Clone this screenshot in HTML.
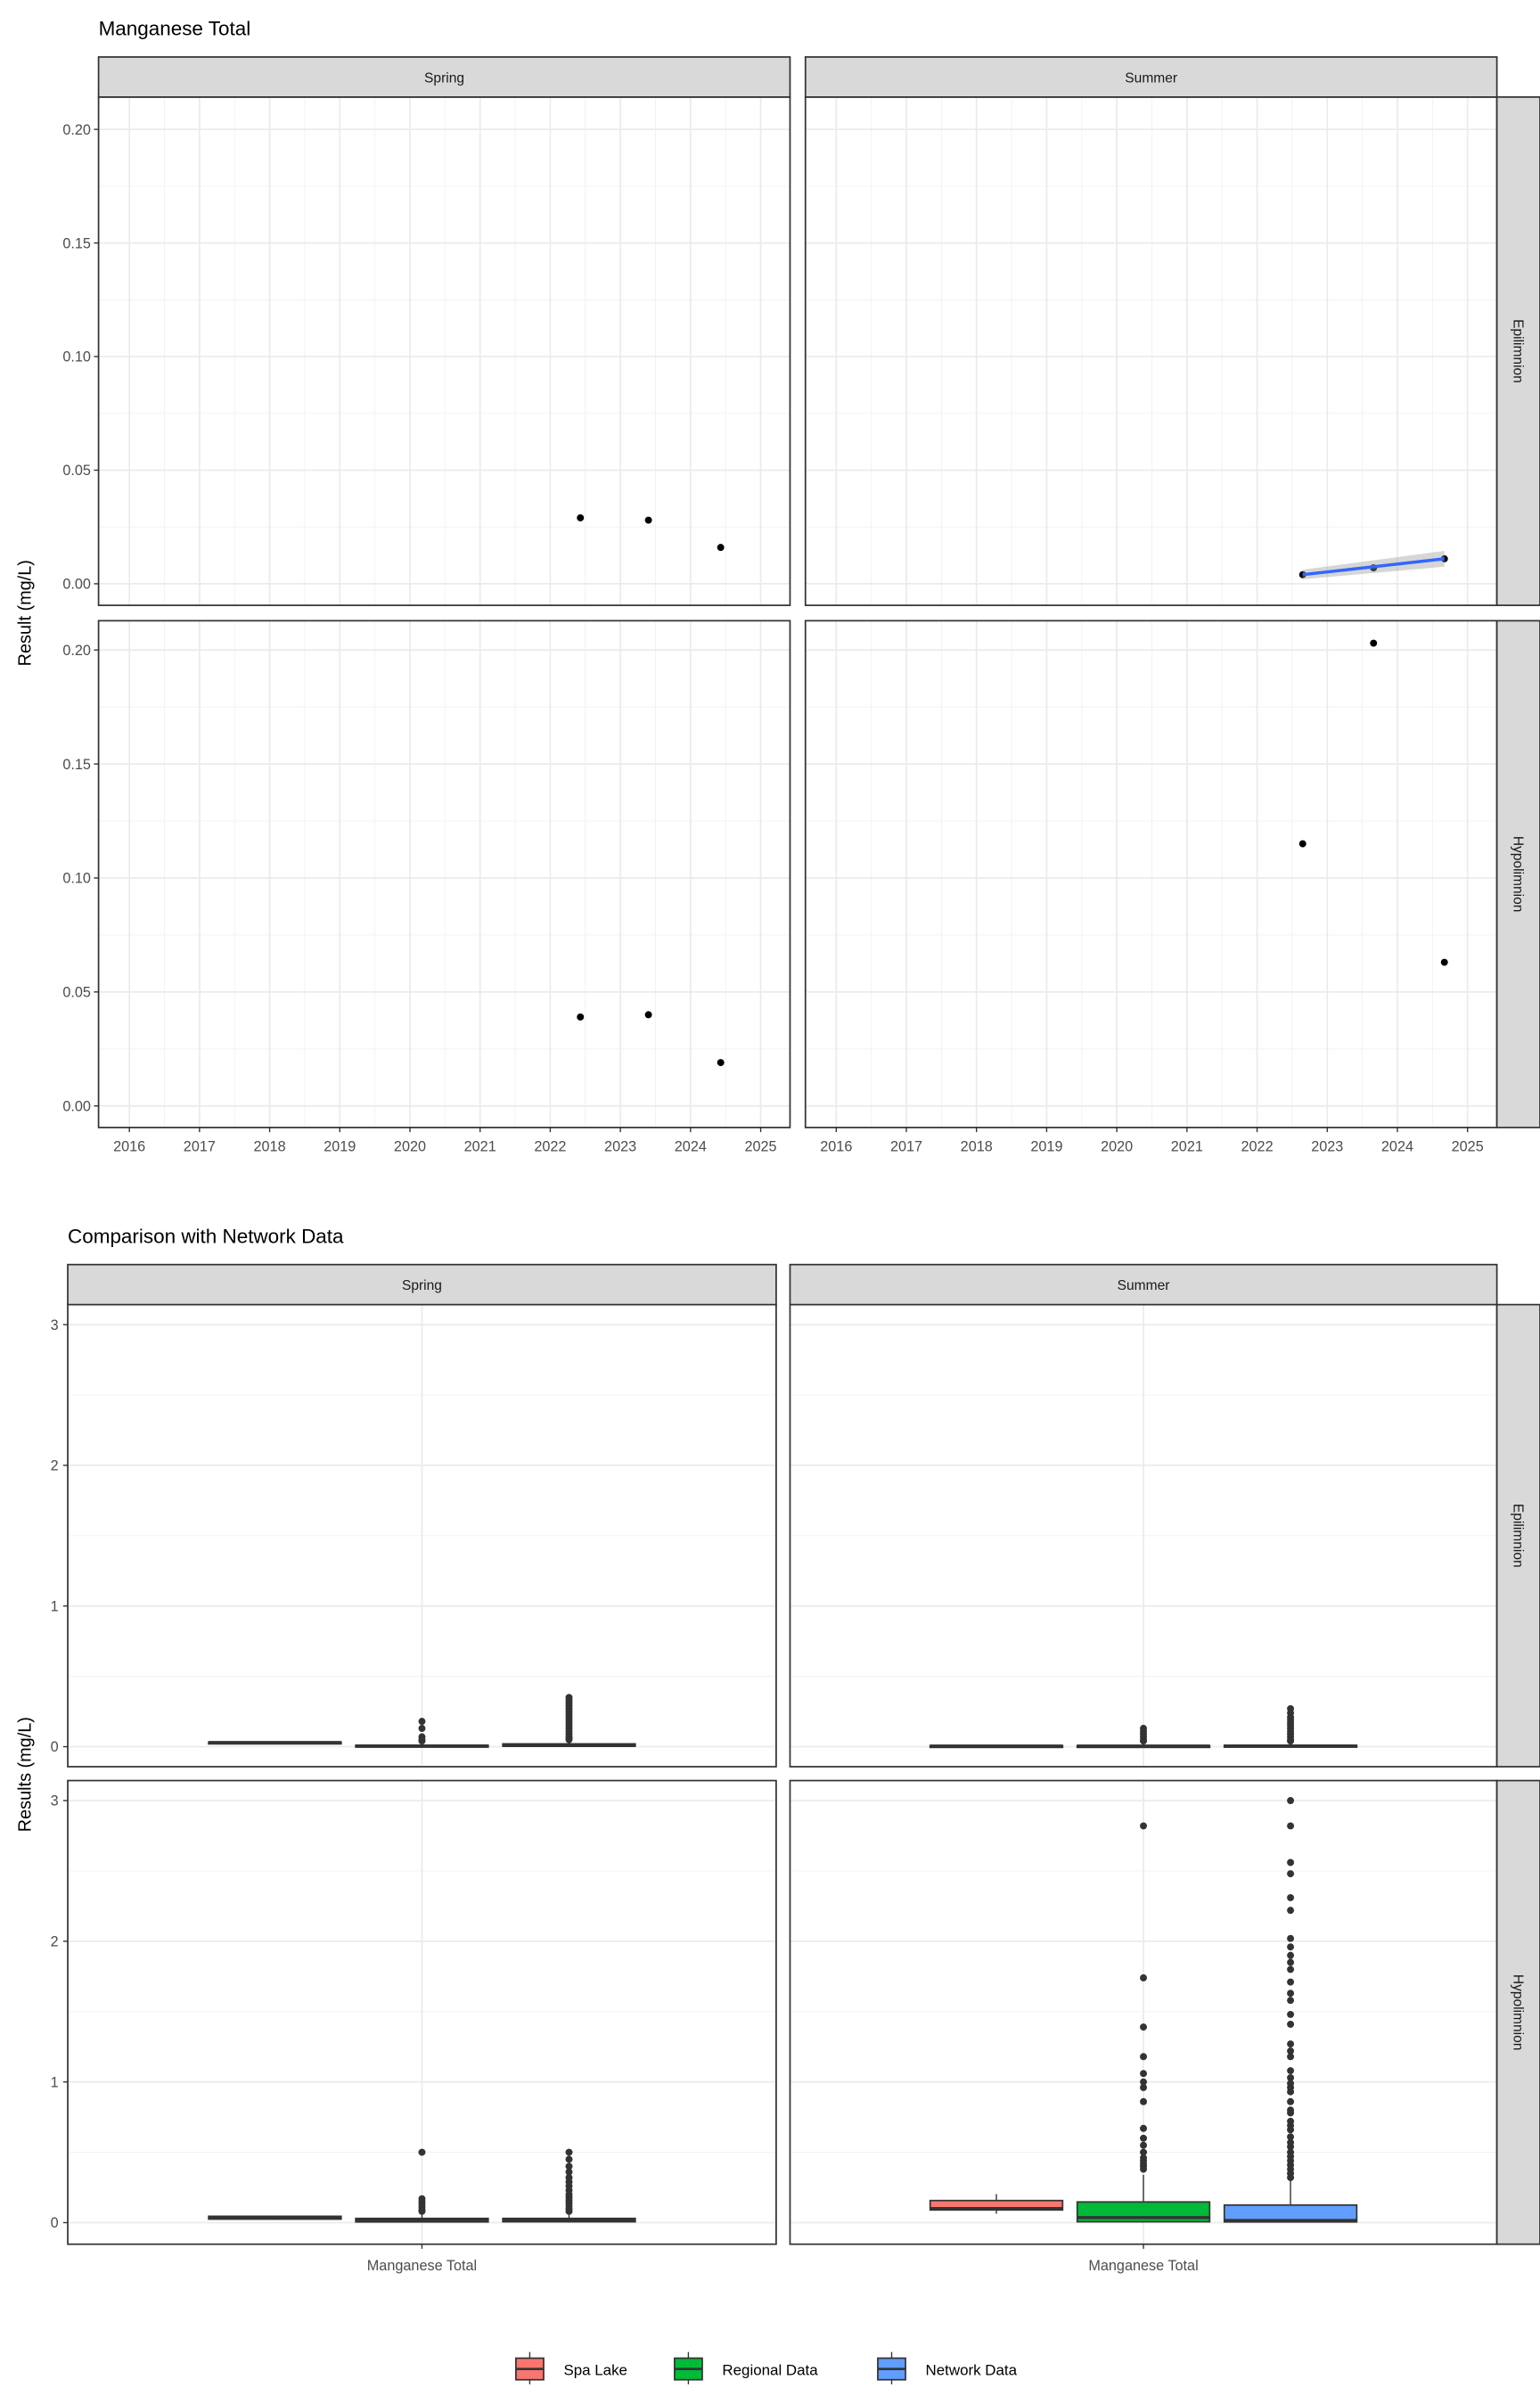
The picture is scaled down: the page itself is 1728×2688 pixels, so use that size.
<!DOCTYPE html>
<html><head><meta charset="utf-8"><style>
html,body{margin:0;padding:0;background:#fff}
svg{display:block}
text{font-family:"Liberation Sans",Arial,sans-serif}
</style></head><body>
<svg id="c" width="1728" height="2688" viewBox="0 0 1000 1555.56" xmlns="http://www.w3.org/2000/svg"></svg>
<script>
// ---------- data: top chart ----------
const years = [2016,2017,2018,2019,2020,2021,2022,2023,2024,2025];
const yTicksTop = [0,0.05,0.10,0.15,0.20];
const yTickLabelsTop = ["0.00","0.05","0.10","0.15","0.20"];
const springEpiX = [2022.43,2023.40,2024.43];
const springEpiY = [0.029,0.028,0.016];
const springHypoX = [2022.43,2023.40,2024.43];
const springHypoY = [0.039,0.040,0.019];
const summerEpiX = [2022.65,2023.66,2024.67];
const summerEpiY = [0.004,0.007,0.011];
const summerHypoX = [2022.65,2023.66,2024.67];
const summerHypoY = [0.115,0.203,0.063];
const trendX = [2022.65,2024.67];
const trendY = [0.0040,0.0110];
const trendLo = [0.0020,0.0075];
const trendHi = [0.0062,0.0145];
// ---------- data: bottom chart ----------
const seriesNames = ["Spa Lake","Regional Data","Network Data"];
const seriesColors = ["#F8766D","#00BA38","#619CFF"];
const yTicksBot = [0,1,2,3];
// box stats: [lowWhisker,q1,median,q3,highWhisker]
const springEpiBox = [[0.025,0.027,0.03,0.033,0.035],[0.0,0.002,0.005,0.01,0.02],[0.0,0.004,0.008,0.02,0.04]];
const springEpiOut = [[],[0.18,0.13,0.07,0.05,0.04],[0.35,0.33,0.31,0.29,0.27,0.25,0.23,0.21,0.19,0.17,0.15,0.13,0.11,0.09,0.07,0.06,0.05]];
const summerEpiBox = [[0.0,0.002,0.004,0.008,0.011],[0.0,0.002,0.004,0.008,0.015],[0.0,0.002,0.004,0.01,0.02]];
const summerEpiOut = [[],[0.13,0.11,0.09,0.07,0.05,0.04],[0.27,0.24,0.21,0.19,0.17,0.15,0.13,0.11,0.09,0.07,0.05,0.04]];
const springHypoBox = [[0.019,0.025,0.039,0.045,0.05],[0.0,0.005,0.015,0.03,0.06],[0.0,0.006,0.015,0.03,0.07]];
const springHypoOut = [[],[0.5,0.17,0.15,0.13,0.11,0.09,0.08],[0.5,0.45,0.4,0.36,0.32,0.29,0.26,0.23,0.2,0.18,0.16,0.14,0.12,0.1,0.08]];
const summerHypoBox = [[0.063,0.09,0.10,0.157,0.203],[0.0,0.006,0.036,0.147,0.34],[0.0,0.005,0.015,0.125,0.3]];
const summerHypoOut = [[],[2.82,1.74,1.39,1.18,1.06,1.0,0.96,0.86,0.67,0.6,0.55,0.5,0.46,0.44,0.42,0.4,0.38],
 [3.0,2.82,2.56,2.48,2.31,2.22,2.02,1.96,1.9,1.85,1.8,1.71,1.63,1.58,1.48,1.41,1.27,1.22,1.18,1.08,1.03,0.99,0.96,0.93,0.86,0.8,0.78,0.72,0.69,0.66,0.61,0.57,0.54,0.5,0.47,0.44,0.41,0.38,0.35,0.32]];

const svg = document.getElementById('c');
const NS = "http://www.w3.org/2000/svg";
const TICK_FS = 9.4, STRIP_FS = 9;
function mk(tag, attrs, parent, txt){
  const e = document.createElementNS(NS, tag);
  for (const k in attrs) e.setAttribute(k, attrs[k]);
  if (txt !== undefined) e.textContent = txt;
  (parent||svg).appendChild(e);
  return e;
}

function title(x,y,t,n){
  const e = mk('text',{x:x,y:y,'font-size':13,fill:'#000'},svg,t);
  
  
}
function stripTop(x0,x1,y0,y1,t){
  const g = mk('g',{});
  
  
  mk('rect',{x:x0,y:y0,width:x1-x0,height:y1-y0,fill:'#d9d9d9',stroke:'#333','stroke-width':1},g);
  mk('text',{x:(x0+x1)/2,y:(y0+y1)/2+3.5,'font-size':STRIP_FS,'text-anchor':'middle',fill:'#1a1a1a'},g,t);
}
function stripRight(x0,x1,y0,y1,t){
  const g = mk('g',{});
  
  
  mk('rect',{x:x0,y:y0,width:x1-x0,height:y1-y0,fill:'#d9d9d9',stroke:'#333','stroke-width':1},g);
  const cx=(x0+x1)/2, cy=(y0+y1)/2;
  mk('text',{x:cx,y:cy,'font-size':STRIP_FS,'text-anchor':'middle',fill:'#1a1a1a',transform:`rotate(90 ${cx} ${cy}) translate(0 3)`},g,t);
}

// ---------- top chart ----------
title(64,23,"Manganese Total","title-top");
const TP = {sx0:64,sx1:513,ux0:523,ux1:972,r1:[63,393],r2:[403,732]};
function xYearS(v){return 84 + (v-2016)*45.55;}
function xYearU(v){return 543 + (v-2016)*45.55;}
function yTop(row){ const y0=row===1?379:718, k=(row===1?(379-84):(718-422))/0.2; return v=>y0 - v*k; }

function topPanel(x0,x1,rowR,xs,yf,name,xsArr,ysArr,showX,showY){
  const g = mk('g',{});
  
  
  mk('rect',{x:x0,y:rowR[0],width:x1-x0,height:rowR[1]-rowR[0],fill:'#fff'},g);
  for (let i=0;i<years.length+1;i++){ const x=xs(years[0]-0.5+i); if(x>x0&&x<x1) mk('line',{x1:x,x2:x,y1:rowR[0],y2:rowR[1],stroke:'#f0f0f0','stroke-width':0.5},g); }
  for (let v=-0.025; v<=0.225; v+=0.05){ const y=yf(v); if(y>rowR[0]&&y<rowR[1]) mk('line',{x1:x0,x2:x1,y1:y,y2:y,stroke:'#f0f0f0','stroke-width':0.5},g); }
  years.forEach(yr=>{ const x=xs(yr); mk('line',{x1:x,x2:x,y1:rowR[0],y2:rowR[1],stroke:'#ebebeb','stroke-width':1},g); });
  yTicksTop.forEach(v=>{ const y=yf(v); mk('line',{x1:x0,x2:x1,y1:y,y2:y,stroke:'#ebebeb','stroke-width':1},g); });
  for (let i=0;i<xsArr.length;i++){
    const p = mk('circle',{cx:xs(xsArr[i]),cy:yf(ysArr[i]),r:2.3,fill:'#000'},g);
    
    
  }
  mk('rect',{x:x0,y:rowR[0],width:x1-x0,height:rowR[1]-rowR[0],fill:'none',stroke:'#333','stroke-width':1},g);
  if (showY){
    yTicksTop.forEach((v,i)=>{ const y=yf(v);
      mk('line',{x1:x0-3,x2:x0,y1:y,y2:y,stroke:'#333','stroke-width':0.8},g);
      mk('text',{x:x0-5,y:y+3.3,'font-size':TICK_FS,'text-anchor':'end',fill:'#4d4d4d'},g,yTickLabelsTop[i]);
    });
  }
  if (showX){
    years.forEach(yr=>{ const x=xs(yr);
      mk('line',{x1:x,x2:x,y1:rowR[1],y2:rowR[1]+3,stroke:'#333','stroke-width':0.8},g);
      mk('text',{x:x,y:rowR[1]+15.5,'font-size':TICK_FS,'text-anchor':'middle',fill:'#4d4d4d'},g,String(yr));
    });
  }
  return g;
}
const yr1 = yTop(1), yr2 = yTop(2);
topPanel(TP.sx0,TP.sx1,TP.r1,xYearS,yr1,'panel-spring-epilimnion',springEpiX,springEpiY,false,true);
const gSE = topPanel(TP.ux0,TP.ux1,TP.r1,xYearU,yr1,'panel-summer-epilimnion',summerEpiX,summerEpiY,false,false);
{
  const pts = [];
  for (let i=0;i<trendX.length;i++) pts.push(xYearU(trendX[i])+','+yr1(trendHi[i]));
  for (let i=trendX.length-1;i>=0;i--) pts.push(xYearU(trendX[i])+','+yr1(trendLo[i]));
  const rb = mk('polygon',{points:pts.join(' '),fill:'#999','fill-opacity':0.4},gSE);
  
  
  const ln = mk('polyline',{points:trendX.map((x,i)=>xYearU(x)+','+yr1(trendY[i])).join(' '),fill:'none',stroke:'#3366FF','stroke-width':2},gSE);
  
  
  gSE.appendChild(gSE.querySelector('rect[fill="none"]'));
}
topPanel(TP.sx0,TP.sx1,TP.r2,xYearS,yr2,'panel-spring-hypolimnion',springHypoX,springHypoY,true,true);
topPanel(TP.ux0,TP.ux1,TP.r2,xYearU,yr2,'panel-summer-hypolimnion',summerHypoX,summerHypoY,true,false);
stripTop(TP.sx0,TP.sx1,37,63,"Spring");
stripTop(TP.ux0,TP.ux1,37,63,"Summer");
stripRight(972,1000,63,393,"Epilimnion");
stripRight(972,1000,403,732,"Hypolimnion");
{
  const t = mk('text',{x:20,y:398,'font-size':11.5,'text-anchor':'middle',fill:'#000',transform:'rotate(-90 20 398)'},svg,"Result (mg/L)");
  
  
}

// ---------- bottom chart ----------
title(44,807,"Comparison with Network Data","title-bottom");
const BP = {sx0:44,sx1:504,ux0:513,ux1:972,r1:[847,1147],r2:[1156,1457]};
function yBot(row){ const y0=row===1?1134:1443, k=(row===1?(1134-860):(1443-1169))/3; return v=>y0 - v*k; }
const boxOffset = [-95.5,0,95.5], boxW = 86;
function botPanel(x0,x1,rowR,yf,name,boxes,outs,showX,showY){
  const g = mk('g',{});
  
  
  const cx=(x0+x1)/2;
  mk('rect',{x:x0,y:rowR[0],width:x1-x0,height:rowR[1]-rowR[0],fill:'#fff'},g);
  for (let v=0.5; v<3.4; v+=1){ const y=yf(v); if(y>rowR[0]) mk('line',{x1:x0,x2:x1,y1:y,y2:y,stroke:'#f0f0f0','stroke-width':0.5},g); }
  yTicksBot.forEach(v=>{ const y=yf(v); mk('line',{x1:x0,x2:x1,y1:y,y2:y,stroke:'#ebebeb','stroke-width':1},g); });
  mk('line',{x1:cx,x2:cx,y1:rowR[0],y2:rowR[1],stroke:'#ebebeb','stroke-width':1},g);
  boxes.forEach((b,i)=>{
    const bx = cx+boxOffset[i];
    const bg = mk('g',{},g);
    
    
    mk('line',{x1:bx,x2:bx,y1:yf(b[0]),y2:yf(b[4]),stroke:'#333','stroke-width':0.8},bg);
    const top=yf(b[3]), bot=yf(b[1]);
    mk('rect',{x:bx-boxW/2,y:top,width:boxW,height:Math.max(bot-top,1.2),fill:seriesColors[i],stroke:'#333','stroke-width':1},bg);
    mk('line',{x1:bx-boxW/2,x2:bx+boxW/2,y1:yf(b[2]),y2:yf(b[2]),stroke:'#333','stroke-width':2},bg);
    outs[i].forEach(v=>{
      const c = mk('circle',{cx:bx,cy:yf(v),r:2.3,fill:'#333'},bg);
      
      
    });
  });
  mk('rect',{x:x0,y:rowR[0],width:x1-x0,height:rowR[1]-rowR[0],fill:'none',stroke:'#333','stroke-width':1},g);
  if (showY){
    yTicksBot.forEach(v=>{ const y=yf(v);
      mk('line',{x1:x0-3,x2:x0,y1:y,y2:y,stroke:'#333','stroke-width':0.8},g);
      mk('text',{x:x0-6,y:y+3.3,'font-size':TICK_FS,'text-anchor':'end',fill:'#4d4d4d'},g,String(v));
    });
  }
  if (showX){
    mk('line',{x1:cx,x2:cx,y1:rowR[1],y2:rowR[1]+3,stroke:'#333','stroke-width':0.8},g);
    mk('text',{x:cx,y:rowR[1]+17,'font-size':TICK_FS,'text-anchor':'middle',fill:'#4d4d4d'},g,"Manganese Total");
  }
}
const yb1=yBot(1), yb2=yBot(2);
botPanel(BP.sx0,BP.sx1,BP.r1,yb1,'panel-spring-epilimnion-box',springEpiBox,springEpiOut,false,true);
botPanel(BP.ux0,BP.ux1,BP.r1,yb1,'panel-summer-epilimnion-box',summerEpiBox,summerEpiOut,false,false);
botPanel(BP.sx0,BP.sx1,BP.r2,yb2,'panel-spring-hypolimnion-box',springHypoBox,springHypoOut,true,true);
botPanel(BP.ux0,BP.ux1,BP.r2,yb2,'panel-summer-hypolimnion-box',summerHypoBox,summerHypoOut,true,false);
stripTop(BP.sx0,BP.sx1,821,847,"Spring");
stripTop(BP.ux0,BP.ux1,821,847,"Summer");
stripRight(972,1000,847,1147,"Epilimnion");
stripRight(972,1000,1156,1457,"Hypolimnion");
{
  const t = mk('text',{x:20,y:1152,'font-size':11.5,'text-anchor':'middle',fill:'#000',transform:'rotate(-90 20 1152)'},svg,"Results (mg/L)");
  
  
}
// legend
const legendKeyX = [335,438,570];
seriesNames.forEach((s,i)=>{
  const g = mk('g',{});
  
  
  const x = legendKeyX[i];
  mk('line',{x1:x+9,x2:x+9,y1:1527,y2:1548,stroke:'#333','stroke-width':0.8},g);
  mk('rect',{x:x,y:1531,width:18,height:14,fill:seriesColors[i],stroke:'#333','stroke-width':1},g);
  mk('line',{x1:x,x2:x+18,y1:1538,y2:1538,stroke:'#333','stroke-width':1.5},g);
  mk('text',{x:x+31,y:1542,'font-size':9.8,fill:'#000'},g,s);
});
</script>
</body></html>
